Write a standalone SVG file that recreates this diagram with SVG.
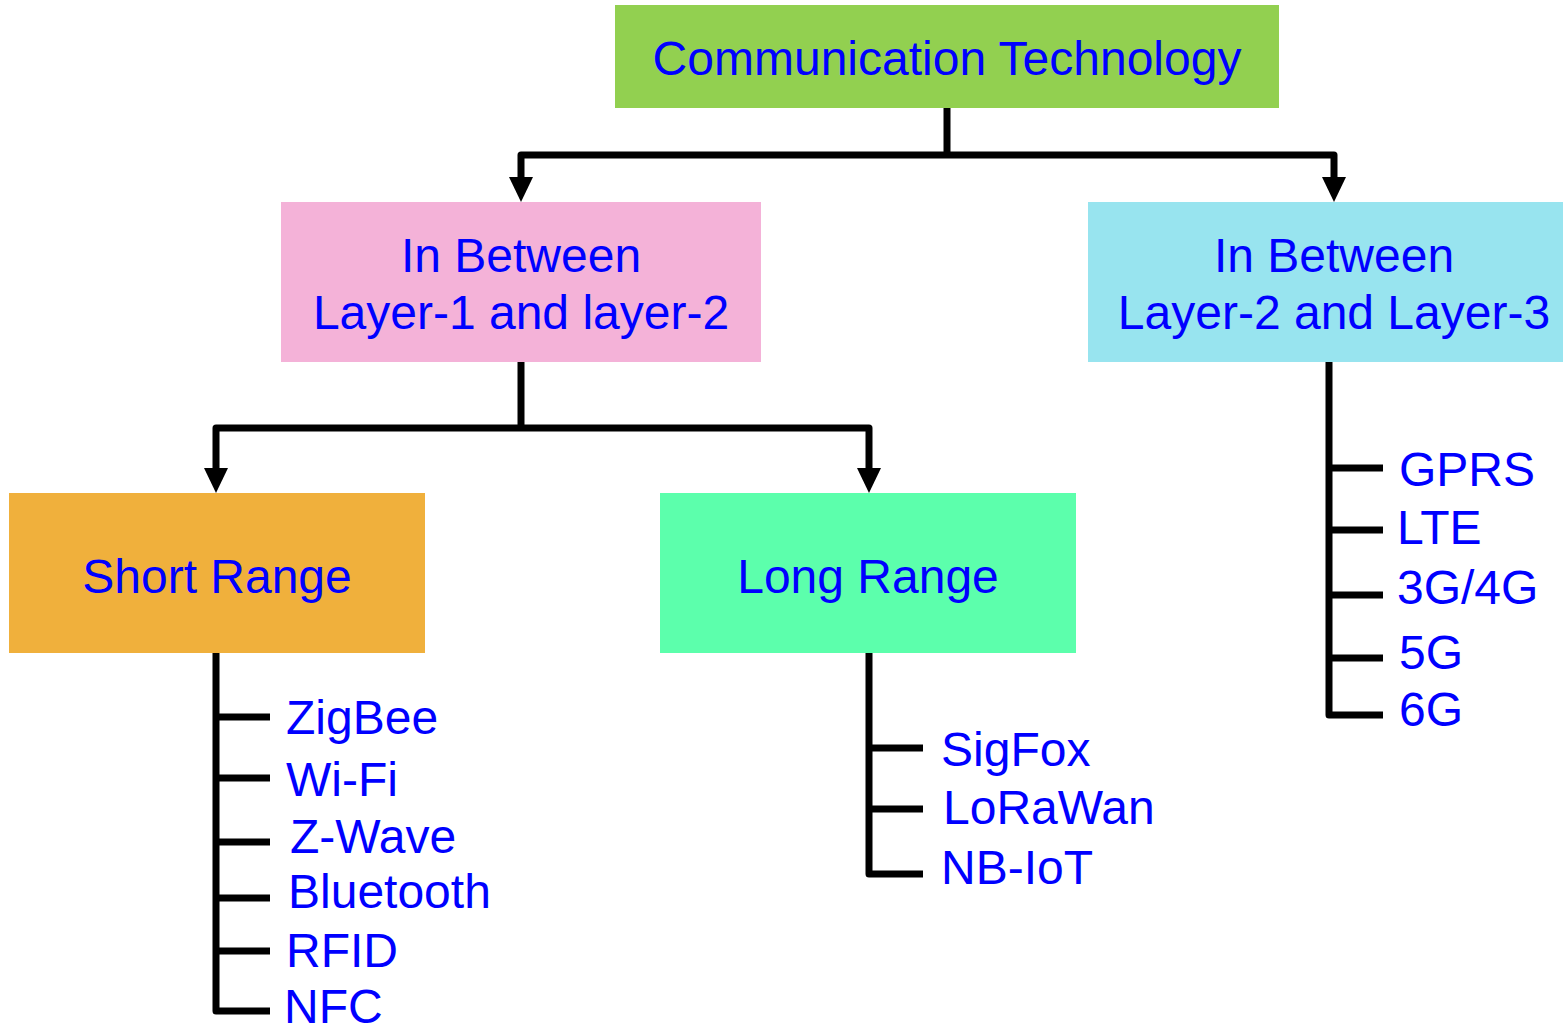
<svg xmlns="http://www.w3.org/2000/svg" width="1563" height="1026" viewBox="0 0 1563 1026">
<style>
.t{font-family:"Liberation Sans",Arial,sans-serif;font-size:48px;fill:#0000FF}
.c{text-anchor:middle}
.ln{fill:none;stroke:#000;stroke-width:7;stroke-linejoin:round}
</style>
<rect width="1563" height="1026" fill="#fff"/>
<g id="connectors">
<path class="ln" d="M947,108 V155"/>
<path class="ln" d="M947,155 H521 V180"/>
<path class="ln" d="M947,155 H1334 V180"/>
<path d="M509,177 L533,177 L521,202 Z" fill="#000"/>
<path d="M1322,177 L1346,177 L1334,202 Z" fill="#000"/>
<path class="ln" d="M521,362 V428"/>
<path class="ln" d="M521,428 H216 V470"/>
<path class="ln" d="M521,428 H869 V470"/>
<path d="M204,468 L228,468 L216,493 Z" fill="#000"/>
<path d="M857,468 L881,468 L869,493 Z" fill="#000"/>
<path class="ln" d="M216,653 V1011 H270"/>
<path class="ln" d="M216,717 H270 M216,778 H270 M216,842 H270 M216,898 H270 M216,951 H270"/>
<path class="ln" d="M869,653 V874 H923"/>
<path class="ln" d="M869,748 H923 M869,809 H923"/>
<path class="ln" d="M1329,362 V715 H1383"/>
<path class="ln" d="M1329,468 H1383 M1329,530 H1383 M1329,595 H1383 M1329,658 H1383"/>
</g>
<g id="root">
<rect x="615" y="5" width="664" height="103" fill="#92D050"/>
<text class="t c" x="947" y="75">Communication Technology</text>
</g>
<g id="layer12">
<rect x="281" y="202" width="480" height="160" fill="#F4B2D8"/>
<text class="t c" x="521" y="272">In Between</text>
<text class="t c" x="521" y="329">Layer-1 and layer-2</text>
</g>
<g id="layer23">
<rect x="1088" y="202" width="475" height="160" fill="#98E4EF"/>
<text class="t c" x="1334" y="272">In Between</text>
<text class="t c" x="1334" y="329">Layer-2 and Layer-3</text>
</g>
<g id="short">
<rect x="9" y="493" width="416" height="160" fill="#F0B03C"/>
<text class="t c" x="217" y="593">Short Range</text>
</g>
<g id="long">
<rect x="660" y="493" width="416" height="160" fill="#5CFFAC"/>
<text class="t c" x="868" y="593">Long Range</text>
</g>
<g id="short-items">
<text class="t" x="286" y="734">ZigBee</text>
<text class="t" x="286" y="796">Wi-Fi</text>
<text class="t" x="290" y="853">Z-Wave</text>
<text class="t" x="288" y="908">Bluetooth</text>
<text class="t" x="286" y="967">RFID</text>
<text class="t" x="284" y="1023">NFC</text>
</g>
<g id="long-items">
<text class="t" x="941" y="766">SigFox</text>
<text class="t" x="943" y="824">LoRaWan</text>
<text class="t" x="941" y="884">NB-IoT</text>
</g>
<g id="layer23-items">
<text class="t" x="1399" y="486">GPRS</text>
<text class="t" x="1397" y="544">LTE</text>
<text class="t" x="1397" y="604">3G/4G</text>
<text class="t" x="1399" y="669">5G</text>
<text class="t" x="1399" y="726">6G</text>
</g>
</svg>
